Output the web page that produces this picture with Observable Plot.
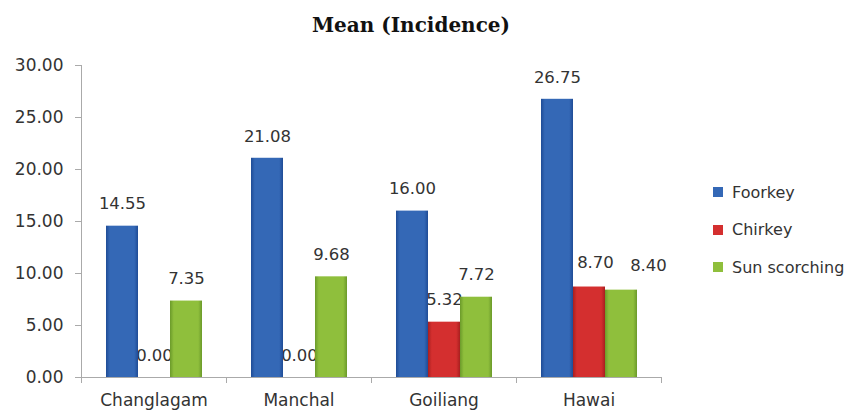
<!DOCTYPE html>
<html>
<head>
<meta charset="utf-8">
<script src="https://cdn.jsdelivr.net/npm/d3@7"></script>
<script src="https://cdn.jsdelivr.net/npm/@observablehq/plot@0.6"></script>
<style>
  html, body { margin: 0; padding: 0; background: #fff; }
  #wrap { position: relative; width: 855px; height: 417px; overflow: hidden; font-family: "DejaVu Sans", sans-serif; color: #333; }
  #title { position: absolute; left: 0; top: 13px; width: 822px; text-align: center; font-family: "DejaVu Serif", serif; font-weight: bold; font-size: 20px; color: #111; }
  #chart { position: absolute; left: 0; top: 45px; }
  #legend { position: absolute; left: 713px; top: 180px; font-size: 16px; color: #333; }
  .li { display: flex; align-items: center; height: 24px; margin-bottom: 13.5px; }
  .sw { width: 10px; height: 10px; margin-right: 9px; }
</style>
</head>
<body>
<div id="wrap">
  <div id="title">Mean (Incidence)</div>
  <div id="chart"></div>
  <div id="legend"></div>
</div>
<script>
const categories = ["Changlagam", "Manchal", "Goiliang", "Hawai"];
const seriesNames = ["Foorkey", "Chirkey", "Sun scorching"];
const foorkey = [14.55, 21.08, 16.00, 26.75];
const chirkey = [0.00, 0.00, 5.32, 8.70];
const sunScorching = [7.35, 9.68, 7.72, 8.40];
const yTicks = [0, 5, 10, 15, 20, 25, 30];
const colors = ["#3468b6", "#d42f2f", "#8fbf3c"];
const edgeColors = ["#1f4c96", "#a81f1f", "#6b9a2a"];

const seriesValues = [foorkey, chirkey, sunScorching];
const data = categories.flatMap((c, i) =>
  seriesNames.map((s, j) => ({cat: c, series: s, value: seriesValues[j][i]}))
);

const fmt = d => d.toFixed(2);

// labels that were nudged sideways in the original (label styling)
const isHawaiChirkey = d => d.cat === "Hawai" && d.series === "Chirkey";
const isHawaiSun = d => d.cat === "Hawai" && d.series === "Sun scorching";
const isPlain = d => !isHawaiChirkey(d) && !isHawaiSun(d);
const labelOpts = {fx: "cat", x: "series", y: "value", text: d => fmt(d.value), fontSize: 16.5, fill: "#333"};

const chart = Plot.plot({
  width: 855,
  height: 372,
  marginLeft: 80,
  marginRight: 193,
  marginTop: 20,
  marginBottom: 40,
  style: {fontFamily: "'DejaVu Sans', sans-serif", color: "#333", background: "transparent"},
  fx: {domain: categories, padding: 0, label: null},
  x: {domain: seriesNames, paddingInner: 0, paddingOuter: 0.75, axis: null},
  y: {domain: [0, 30], label: null},
  color: {domain: seriesNames, range: colors},
  marks: [
    Plot.axisY({ticks: yTicks, tickFormat: fmt, tickSize: 6, tickPadding: 12, fontSize: 17, label: null, stroke: "#aaa", fill: "#333"}),
    Plot.axisFx({anchor: "bottom", tickSize: 0, tickPadding: 16, fontSize: 17, label: null, fill: "#333"}),
    Plot.text(data.filter(isPlain), {...labelOpts, dy: -22}),
    Plot.text(data.filter(isHawaiChirkey), {...labelOpts, dy: -24, dx: 6}),
    Plot.text(data.filter(isHawaiSun), {...labelOpts, dy: -24, dx: 27}),
    Plot.barY(data, {fx: "cat", x: "series", y: "value", fill: "series", className: "bars"}),
    Plot.ruleY([0], {stroke: "#aaa"})
  ]
});

document.getElementById("chart").appendChild(chart);

const svg = d3.select(chart);

// bar shading (horizontal gradient like the original)
const defs = svg.insert("defs", ":first-child");
colors.forEach((c, i) => {
  const lg = defs.append("linearGradient").attr("id", "grad" + i).attr("x1", 0).attr("x2", 1).attr("y1", 0).attr("y2", 0);
  lg.append("stop").attr("offset", "0%").attr("stop-color", edgeColors[i]);
  lg.append("stop").attr("offset", "12%").attr("stop-color", c);
  lg.append("stop").attr("offset", "88%").attr("stop-color", c);
  lg.append("stop").attr("offset", "100%").attr("stop-color", edgeColors[i]);
});
svg.selectAll(".bars rect").each(function() {
  const f = (this.getAttribute("fill") || "").toLowerCase();
  const i = colors.indexOf(f);
  if (i >= 0) this.setAttribute("fill", `url(#grad${i})`);
});

// axis line & category separator ticks from the library's scales
const fx = chart.scale("fx");
const y = chart.scale("y");
const g = svg.append("g").attr("stroke", "#aaa");
const y0 = y.apply(0), y30 = y.apply(30);
const bounds = categories.map(c => fx.apply(c)).concat([fx.apply(categories[categories.length - 1]) + fx.bandwidth]);
g.append("line").attr("x1", bounds[0] + 0.5).attr("x2", bounds[0] + 0.5).attr("y1", y30).attr("y2", y0 + 6);
bounds.forEach(b => g.append("line").attr("x1", b + 0.5).attr("x2", b + 0.5).attr("y1", y0).attr("y2", y0 + 6));

// legend
const legend = d3.select("#legend");
seriesNames.forEach((s, i) => {
  const row = legend.append("div").attr("class", "li");
  row.append("div").attr("class", "sw").style("background", colors[i]);
  row.append("span").text(s);
});
</script>
</body>
</html>
